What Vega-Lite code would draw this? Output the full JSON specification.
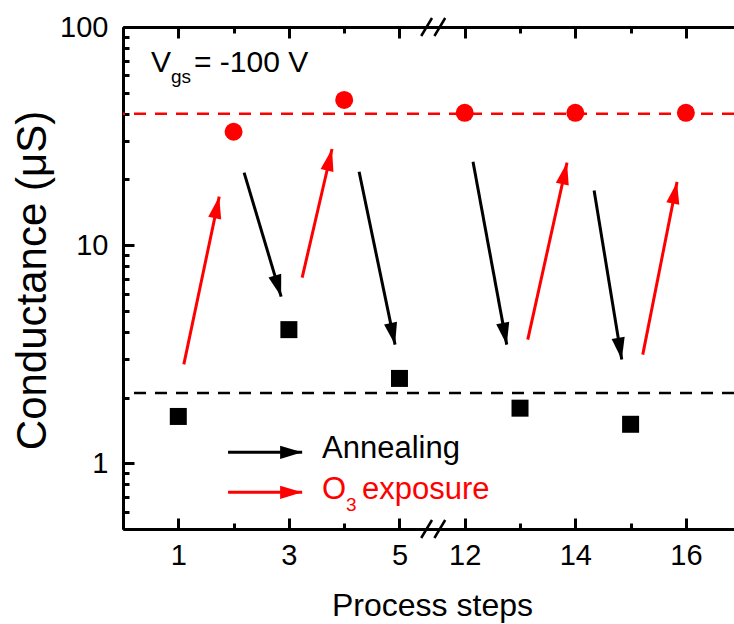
{
  "$schema": "https://vega.github.io/schema/vega-lite/v6.json",
  "width": 611,
  "height": 502,
  "autosize": "none",
  "padding": {"left": 123, "top": 27, "right": 0, "bottom": 95},
  "config": {
    "view": {"stroke": null},
    "font": "Liberation Sans",
    "axis": {
      "grid": false,
      "domainColor": "#000000",
      "domainWidth": 3,
      "tickColor": "#000000",
      "tickWidth": 3,
      "labelColor": "#000000",
      "labelFont": "Liberation Sans",
      "labelFontSize": 29,
      "labelFlush": false,
      "labelOverlap": false,
      "titleColor": "#000000",
      "titleFont": "Liberation Sans",
      "titleFontWeight": "normal"
    }
  },
  "datasets": {
    "levels": [
      {"g": 40, "kind": "O3"},
      {"g": 2.1, "kind": "anneal"}
    ],
    "points": [
      {"step": 1, "g": 1.64, "kind": "anneal"},
      {"step": 2, "g": 33.1, "kind": "O3"},
      {"step": 3, "g": 4.1, "kind": "anneal"},
      {"step": 4, "g": 46.3, "kind": "O3"},
      {"step": 5, "g": 2.45, "kind": "anneal"},
      {"step": 12, "g": 40.4, "kind": "O3"},
      {"step": 13, "g": 1.79, "kind": "anneal"},
      {"step": 14, "g": 40.4, "kind": "O3"},
      {"step": 15, "g": 1.51, "kind": "anneal"},
      {"step": 16, "g": 40.4, "kind": "O3"}
    ],
    "arrows": [
      {"s1": 1.10, "g1": 2.84, "s2": 1.74, "g2": 16.7, "kind": "O3", "heading": 11.8},
      {"s1": 3.24, "g1": 7.10, "s2": 3.78, "g2": 27.6, "kind": "O3", "heading": 13.1},
      {"s1": 13.14, "g1": 3.69, "s2": 13.85, "g2": 23.9, "kind": "O3", "heading": 12.4},
      {"s1": 15.22, "g1": 3.15, "s2": 15.84, "g2": 19.5, "kind": "O3", "heading": 11.1},
      {"s1": 2.19, "g1": 21.5, "s2": 2.86, "g2": 5.81, "kind": "anneal", "heading": 163.4},
      {"s1": 4.27, "g1": 21.7, "s2": 4.92, "g2": 3.50, "kind": "anneal", "heading": 168.2},
      {"s1": 12.15, "g1": 24.1, "s2": 12.76, "g2": 3.50, "kind": "anneal", "heading": 169.5},
      {"s1": 14.34, "g1": 17.8, "s2": 14.84, "g2": 2.99, "kind": "anneal", "heading": 170.6},
      {"s1": 1.90, "g1": 1.123, "s2": 3.24, "g2": 1.123, "kind": "anneal", "heading": 90},
      {"s1": 1.90, "g1": 0.736, "s2": 3.24, "g2": 0.736, "kind": "O3", "heading": 90}
    ],
    "legendA": [{"step": 3.6, "g": 1.054}],
    "legendO": [{"step": 3.6, "g": 0.684}],
    "vgs": [{"step": 0.506, "g": 62.5}],
    "breaks": [{"step": 5.61, "g": 100}, {"step": 5.61, "g": 0.5}]
  },
  "layer": [
    {
      "data": {"name": "levels"},
      "mark": {"type": "rule", "strokeWidth": 2.5, "strokeDash": [12, 9]},
      "encoding": {
        "y": {"field": "g", "type": "quantitative", "scale": {"type": "log", "domain": [0.5, 100]}, "axis": null},
        "color": {"field": "kind", "type": "nominal", "scale": {"domain": ["anneal", "O3"], "range": ["#000000", "#ff0000"]}, "legend": null}
      }
    },
    {
      "data": {"name": "arrows"},
      "transform": [
        {"calculate": "datum.s1 >= 6 ? datum.s1 - 5.82 : datum.s1", "as": "p1"},
        {"calculate": "datum.s2 >= 6 ? datum.s2 - 5.82 : datum.s2", "as": "p2"}
      ],
      "mark": {"type": "rule", "strokeWidth": 3},
      "encoding": {
        "x": {"field": "p1", "type": "quantitative", "scale": {"domain": [0, 11.05], "nice": false, "zero": false},
              "axis": {"orient": "bottom", "values": [2, 4, 7.18, 9.18], "tickSize": -6, "labels": false, "title": null}},
        "x2": {"field": "p2"},
        "y": {"field": "g1", "type": "quantitative", "scale": {"type": "log", "domain": [0.5, 100]}, "axis": null},
        "y2": {"field": "g2"},
        "color": {"field": "kind", "type": "nominal", "scale": {"domain": ["anneal", "O3"], "range": ["#000000", "#ff0000"]}, "legend": null}
      }
    },
    {
      "data": {"name": "arrows"},
      "transform": [
        {"calculate": "datum.s2 >= 6 ? datum.s2 - 5.82 : datum.s2", "as": "p2"}
      ],
      "mark": {"type": "point", "filled": true, "opacity": 1, "size": 484, "strokeWidth": 0, "shape": "M0,0L-0.6,2L0.6,2Z"},
      "encoding": {
        "x": {"field": "p2", "type": "quantitative", "scale": {"domain": [0, 11.05], "nice": false, "zero": false},
              "axis": {"orient": "top", "values": [2, 4, 7.18, 9.18], "tickSize": -6, "labels": false, "title": null}},
        "y": {"field": "g2", "type": "quantitative", "scale": {"type": "log", "domain": [0.5, 100]}, "axis": null},
        "angle": {"field": "heading", "type": "quantitative", "scale": null},
        "color": {"field": "kind", "type": "nominal", "scale": {"domain": ["anneal", "O3"], "range": ["#000000", "#ff0000"]}, "legend": null}
      }
    },
    {
      "data": {"name": "points"},
      "transform": [
        {"filter": "datum.kind === 'O3'"},
        {"calculate": "datum.step >= 6 ? datum.step - 5.82 : datum.step", "as": "pos"}
      ],
      "mark": {"type": "point", "shape": "circle", "filled": true, "opacity": 1, "size": 324, "color": "#ff0000"},
      "encoding": {
        "x": {"field": "pos", "type": "quantitative", "scale": {"domain": [0, 11.05], "nice": false, "zero": false},
              "axis": {"orient": "bottom", "values": [1, 3, 5, 6.18, 8.18, 10.18], "tickSize": -11, "labelPadding": 23,
                       "labelExpr": "datum.value > 5.5 ? round(datum.value + 5.82) : datum.value",
                       "title": "Process steps", "titleFontSize": 32, "titleX": 309, "titleY": 86, "titleBaseline": "alphabetic"}},
        "y": {"field": "g", "type": "quantitative", "scale": {"type": "log", "domain": [0.5, 100]},
              "axis": {"orient": "left", "values": [1, 10, 100], "tickSize": -11, "labelPadding": 26, "format": "d",
                       "title": "Conductance (μS)", "titleFontSize": 42, "titleX": -78, "titleY": 253, "titleBaseline": "alphabetic", "titleAngle": -90}}
      }
    },
    {
      "data": {"name": "points"},
      "transform": [
        {"filter": "datum.kind === 'anneal'"},
        {"calculate": "datum.step >= 6 ? datum.step - 5.82 : datum.step", "as": "pos"}
      ],
      "mark": {"type": "point", "shape": "square", "filled": true, "opacity": 1, "size": 289, "color": "#000000"},
      "encoding": {
        "x": {"field": "pos", "type": "quantitative", "scale": {"domain": [0, 11.05], "nice": false, "zero": false},
              "axis": {"orient": "top", "values": [1, 3, 5, 6.18, 8.18, 10.18], "tickSize": -11, "labels": false, "title": null}},
        "y": {"field": "g", "type": "quantitative", "scale": {"type": "log", "domain": [0.5, 100]},
              "axis": {"orient": "left", "values": [0.6, 0.7, 0.8, 0.9, 2, 3, 4, 5, 6, 7, 8, 9, 20, 30, 40, 50, 60, 70, 80, 90], "tickSize": -6, "labels": false, "title": null}}
      }
    },
    {
      "data": {"name": "breaks"},
      "mark": {"type": "point", "filled": false, "opacity": 1, "size": 576, "strokeWidth": 2.5, "color": "#000000", "shape": "M-1,0.75L-0.1,-0.75M0.1,0.75L1,-0.75"},
      "encoding": {
        "x": {"field": "step", "type": "quantitative", "scale": {"domain": [0, 11.05], "nice": false, "zero": false}, "axis": null},
        "y": {"field": "g", "type": "quantitative", "scale": {"type": "log", "domain": [0.5, 100]}, "axis": null}
      }
    },
    {
      "data": {"name": "legendA"},
      "mark": {"type": "text", "text": "Annealing", "align": "left", "baseline": "alphabetic", "fontSize": 31, "color": "#000000"},
      "encoding": {
        "x": {"field": "step", "type": "quantitative", "scale": {"domain": [0, 11.05], "nice": false, "zero": false}, "axis": null},
        "y": {"field": "g", "type": "quantitative", "scale": {"type": "log", "domain": [0.5, 100]}, "axis": null}
      }
    },
    {
      "data": {"name": "legendO"},
      "mark": {"type": "text", "text": "O", "align": "left", "baseline": "alphabetic", "fontSize": 31, "color": "#ff0000"},
      "encoding": {
        "x": {"field": "step", "type": "quantitative", "scale": {"domain": [0, 11.05], "nice": false, "zero": false}, "axis": null},
        "y": {"field": "g", "type": "quantitative", "scale": {"type": "log", "domain": [0.5, 100]}, "axis": null}
      }
    },
    {
      "data": {"name": "legendO"},
      "mark": {"type": "text", "text": "3", "align": "left", "baseline": "alphabetic", "fontSize": 19, "dx": 24, "dy": 12, "color": "#ff0000"},
      "encoding": {
        "x": {"field": "step", "type": "quantitative", "scale": {"domain": [0, 11.05], "nice": false, "zero": false}, "axis": null},
        "y": {"field": "g", "type": "quantitative", "scale": {"type": "log", "domain": [0.5, 100]}, "axis": null}
      }
    },
    {
      "data": {"name": "legendO"},
      "mark": {"type": "text", "text": "exposure", "align": "left", "baseline": "alphabetic", "fontSize": 31, "dx": 40, "color": "#ff0000"},
      "encoding": {
        "x": {"field": "step", "type": "quantitative", "scale": {"domain": [0, 11.05], "nice": false, "zero": false}, "axis": null},
        "y": {"field": "g", "type": "quantitative", "scale": {"type": "log", "domain": [0.5, 100]}, "axis": null}
      }
    },
    {
      "data": {"name": "vgs"},
      "mark": {"type": "text", "text": "V", "align": "left", "baseline": "alphabetic", "fontSize": 30, "color": "#000000"},
      "encoding": {
        "x": {"field": "step", "type": "quantitative", "scale": {"domain": [0, 11.05], "nice": false, "zero": false}, "axis": null},
        "y": {"field": "g", "type": "quantitative", "scale": {"type": "log", "domain": [0.5, 100]}, "axis": null}
      }
    },
    {
      "data": {"name": "vgs"},
      "mark": {"type": "text", "text": "gs", "align": "left", "baseline": "alphabetic", "fontSize": 19, "dx": 20, "dy": 11, "color": "#000000"},
      "encoding": {
        "x": {"field": "step", "type": "quantitative", "scale": {"domain": [0, 11.05], "nice": false, "zero": false}, "axis": null},
        "y": {"field": "g", "type": "quantitative", "scale": {"type": "log", "domain": [0.5, 100]}, "axis": null}
      }
    },
    {
      "data": {"name": "vgs"},
      "mark": {"type": "text", "text": "= -100 V", "align": "left", "baseline": "alphabetic", "fontSize": 30, "dx": 43, "color": "#000000"},
      "encoding": {
        "x": {"field": "step", "type": "quantitative", "scale": {"domain": [0, 11.05], "nice": false, "zero": false}, "axis": null},
        "y": {"field": "g", "type": "quantitative", "scale": {"type": "log", "domain": [0.5, 100]}, "axis": null}
      }
    }
  ],
  "resolve": {"axis": {"x": "independent", "y": "independent"}}
}
